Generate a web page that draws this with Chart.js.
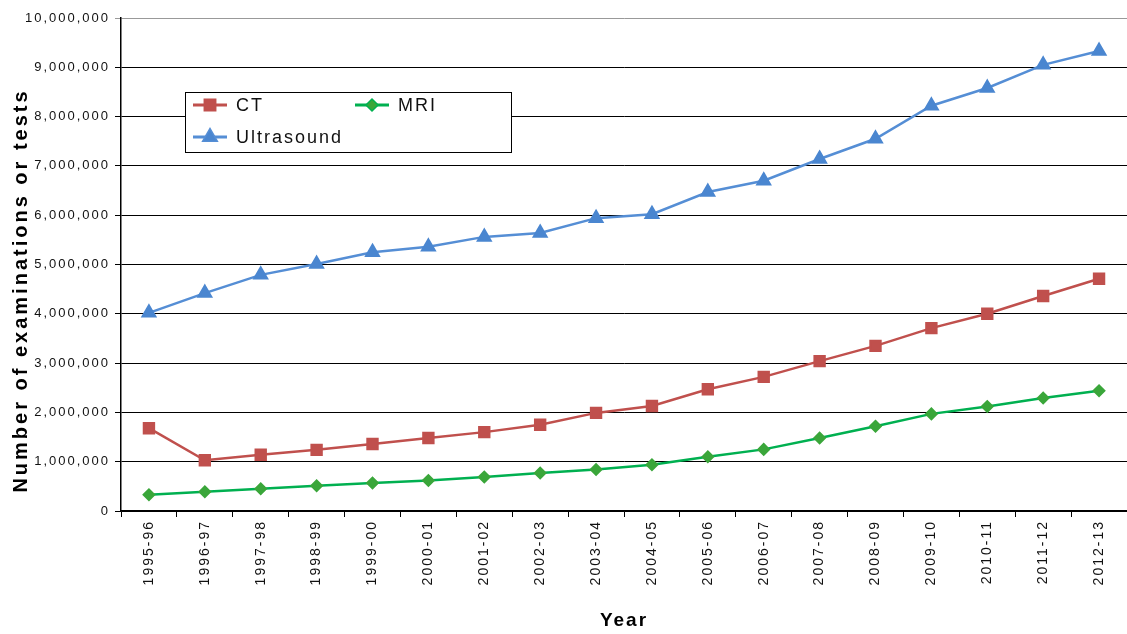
<!DOCTYPE html>
<html lang="en">
<head>
    <meta charset="UTF-8">
    <title>Examinations or tests</title>
    <style>
        html, body { margin: 0; padding: 0; background: #fff; }
        .chart-container { width: 1127px; height: 634px; }
    </style>
    <script src="https://cdn.jsdelivr.net/npm/chart.js"></script>
</head>
<body>
    <div class="chart-container">
        <canvas id="grafico"></canvas>
    </div>
    <script>
        // Dados
        const anos = ['1995-96', '1996-97', '1997-98', '1998-99', '1999-00', '2000-01', '2001-02', '2002-03', '2003-04',
                      '2004-05', '2005-06', '2006-07', '2007-08', '2008-09', '2009-10', '2010-11', '2011-12', '2012-13'];
        const ct = [1680000, 1030000, 1140000, 1240000, 1360000, 1480000, 1600000, 1750000, 1990000,
                    2130000, 2470000, 2720000, 3040000, 3350000, 3710000, 4000000, 4360000, 4710000];
        const mri = [330000, 390000, 450000, 510000, 570000, 620000, 690000, 770000, 840000,
                     940000, 1100000, 1250000, 1480000, 1720000, 1970000, 2120000, 2290000, 2440000];
        const ultrasound = [4020000, 4420000, 4790000, 5010000, 5250000, 5360000, 5560000, 5640000, 5940000,
                            6020000, 6470000, 6700000, 7140000, 7550000, 8220000, 8580000, 9050000, 9330000];

        const fonte = 'Liberation Sans, Arial, sans-serif';

        // Espaçamento entre letras (o original tem o texto bem "esticado")
        const espacamento = {
            id: 'espacamento',
            beforeDraw(chart) { chart.ctx.letterSpacing = '2px'; },
            afterDraw(chart) { chart.ctx.letterSpacing = '0px'; }
        };

        // Título do eixo Y um pouco mais para baixo e mais espaçado
        function ajustaTituloY(scale) {
            if (scale._ajustado) return;
            const orig = scale.drawTitle;
            scale.drawTitle = function () {
                const ctx = this.ctx;
                ctx.save();
                ctx.letterSpacing = '3px';
                ctx.translate(0, 26);
                orig.call(this);
                ctx.restore();
            };
            scale._ajustado = true;
        }

        // Legenda desenhada dentro da área do gráfico (caixa com borda)
        const legendaCaixa = {
            id: 'legendaCaixa',
            afterDraw(chart) {
                const ctx = chart.ctx;
                const a = chart.chartArea;
                const x0 = a.left + 64, y0 = a.top + 74, w = 326, h = 60;
                ctx.save();
                ctx.letterSpacing = '2px';
                ctx.fillStyle = '#fff';
                ctx.fillRect(x0, y0, w, h);
                ctx.strokeStyle = '#000';
                ctx.lineWidth = 1;
                ctx.strokeRect(x0 + 0.5, y0 + 0.5, w, h);
                const itens = [
                    { ds: 0, x: x0 + 8, y: y0 + 13 },
                    { ds: 1, x: x0 + 170, y: y0 + 13 },
                    { ds: 2, x: x0 + 8, y: y0 + 45 }
                ];
                itens.forEach(it => {
                    const ds = chart.data.datasets[it.ds];
                    ctx.strokeStyle = ds.borderColor;
                    ctx.lineWidth = 3;
                    ctx.beginPath();
                    ctx.moveTo(it.x, it.y);
                    ctx.lineTo(it.x + 34, it.y);
                    ctx.stroke();
                    Chart.helpers.drawPoint(ctx, {
                        pointStyle: ds.pointStyle,
                        radius: ds.pointRadius,
                        borderWidth: 1
                    }, it.x + 17, it.y);
                    ctx.fillStyle = ds.pointBackgroundColor;
                    ctx.strokeStyle = ds.pointBorderColor;
                    ctx.fill();
                    ctx.fillStyle = '#111';
                    ctx.font = '18px ' + fonte;
                    ctx.textBaseline = 'middle';
                    ctx.fillText(ds.label, it.x + 43, it.y + 1);
                });
                ctx.restore();
            }
        };

        const grafico = new Chart(document.getElementById('grafico'), {
            type: 'line',
            data: {
                labels: anos,
                datasets: [
                    {
                        label: 'CT',
                        data: ct,
                        borderColor: '#C0504D',
                        borderWidth: 2.5,
                        pointStyle: 'rect',
                        pointRadius: 7,
                        pointBackgroundColor: '#C0504D',
                        pointBorderColor: '#C0504D',
                        tension: 0
                    },
                    {
                        label: 'MRI',
                        data: mri,
                        borderColor: '#00B050',
                        borderWidth: 2.5,
                        pointStyle: 'rectRot',
                        pointRadius: 5,
                        pointBackgroundColor: '#3AA63A',
                        pointBorderColor: '#3AA63A',
                        tension: 0
                    },
                    {
                        label: 'Ultrasound',
                        data: ultrasound,
                        borderColor: '#558ED5',
                        borderWidth: 2.5,
                        pointStyle: 'triangle',
                        pointRadius: 7,
                        pointBackgroundColor: '#4A86D0',
                        pointBorderColor: '#4A86D0',
                        tension: 0
                    }
                ]
            },
            options: {
                responsive: true,
                maintainAspectRatio: false,
                animation: false,
                layout: {
                    autoPadding: false,
                    padding: { top: 18, right: 0, left: 0, bottom: 0 }
                },
                plugins: {
                    legend: { display: false },
                    tooltip: { enabled: false }
                },
                scales: {
                    x: {
                        offset: true,
                        grid: {
                            offset: true,
                            drawOnChartArea: false,
                            drawTicks: true,
                            tickLength: 6,
                            color: '#000'
                        },
                        border: { color: '#000', width: 1.5 },
                        ticks: {
                            minRotation: 90,
                            maxRotation: 90,
                            autoSkip: false,
                            color: '#111',
                            padding: 3,
                            font: { family: fonte, size: 14 }
                        },
                        title: {
                            display: true,
                            text: 'Year',
                            color: '#000',
                            font: { family: fonte, size: 19, weight: 'bold' },
                            padding: { top: 20, bottom: 2 }
                        },
                        afterFit(scale) {
                            scale.height = 123;
                            scale.paddingLeft = 0;
                            scale.paddingRight = 0;
                        }
                    },
                    y: {
                        min: 0,
                        max: 10000000,
                        ticks: {
                            stepSize: 1000000,
                            color: '#111',
                            padding: 5,
                            font: { family: fonte, size: 13 },
                            callback: v => v.toLocaleString('en-US')
                        },
                        grid: {
                            color: ctx => (ctx.tick && ctx.tick.value === 10000000) ? '#999' : '#000',
                            lineWidth: 1,
                            tickLength: 6
                        },
                        border: { color: '#000', width: 1.5 },
                        title: {
                            display: true,
                            text: 'Number of examinations or tests',
                            color: '#000',
                            font: { family: fonte, size: 20, weight: 'bold' },
                            padding: { top: 9, bottom: 0 }
                        },
                        afterFit(scale) {
                            scale.width = 121;
                            ajustaTituloY(scale);
                        }
                    }
                }
            },
            plugins: [espacamento, legendaCaixa]
        });
    </script>
</body>
</html>
